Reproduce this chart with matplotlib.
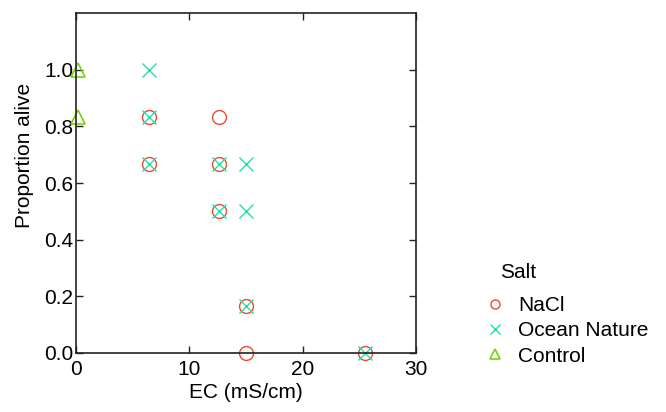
import matplotlib
matplotlib.use("Agg")
import matplotlib.pyplot as plt

plt.rcParams['font.family'] = ['Liberation Sans', 'DejaVu Sans']

# data
nacl_ec = [6.4, 6.4, 12.6, 12.6, 12.6, 15, 15, 25.5]
nacl_alive = [0.833, 0.667, 0.833, 0.667, 0.5, 0.167, 0.0, 0.0]

ocean_ec = [6.4, 6.4, 6.4, 12.6, 12.6, 15, 15, 15, 25.5]
ocean_alive = [1.0, 0.833, 0.667, 0.667, 0.5, 0.667, 0.5, 0.167, 0.0]

control_ec = [0.2, 0.2]
control_alive = [1.0, 0.833]

fs = 15

fig = plt.figure(figsize=(6.66, 4.12), dpi=100)
ax = fig.add_axes([76/666, 59/412, 340/666, 340/412])

ax.plot(nacl_ec, nacl_alive, 'o', ms=10, mfc='none', mec='#f04a2a', mew=1.0, label='NaCl', clip_on=False)
ax.plot(ocean_ec, ocean_alive, 'x', ms=10, mec='#22e0a8', mew=1.0, label='Ocean Nature', clip_on=False)
ax.plot(control_ec, control_alive, '^', ms=10, mfc='none', mec='#74d40a', mew=1.2, label='Control', clip_on=False)

ax.set_xlim(0, 30)
ax.set_ylim(0, 1.2)
ax.set_xticks([0, 10, 20, 30])
ax.set_yticks([0.0, 0.2, 0.4, 0.6, 0.8, 1.0])
ax.set_yticklabels(['0.0', '0.2', '0.4', '0.6', '0.8', '1.0'])
ax.tick_params(direction='in', length=5, width=1, labelsize=fs, top=True, right=True,
               colors='#222222', labelcolor='black')
ax.tick_params(axis='x', pad=5)
ax.tick_params(axis='y', pad=2)
for s in ax.spines.values():
    s.set_color('#222222')
    s.set_linewidth(1.2)

ax.set_xlabel('EC (mS/cm)', fontsize=fs, labelpad=3)
ax.set_ylabel('Proportion alive', fontsize=fs)
ax.yaxis.set_label_coords(-0.125, 0.58)

fig.text(500/666, 1 - 272/412, 'Salt', fontsize=fs, va='center', ha='left')
leg = ax.legend(loc='upper left', bbox_to_anchor=(485/666, 1 - 296/412), bbox_transform=fig.transFigure,
                frameon=False, fontsize=fs, markerscale=0.65, handlelength=1.0,
                handletextpad=0.6, labelspacing=0.3, borderpad=0, borderaxespad=0)

fig.savefig('out.png', dpi=100)
